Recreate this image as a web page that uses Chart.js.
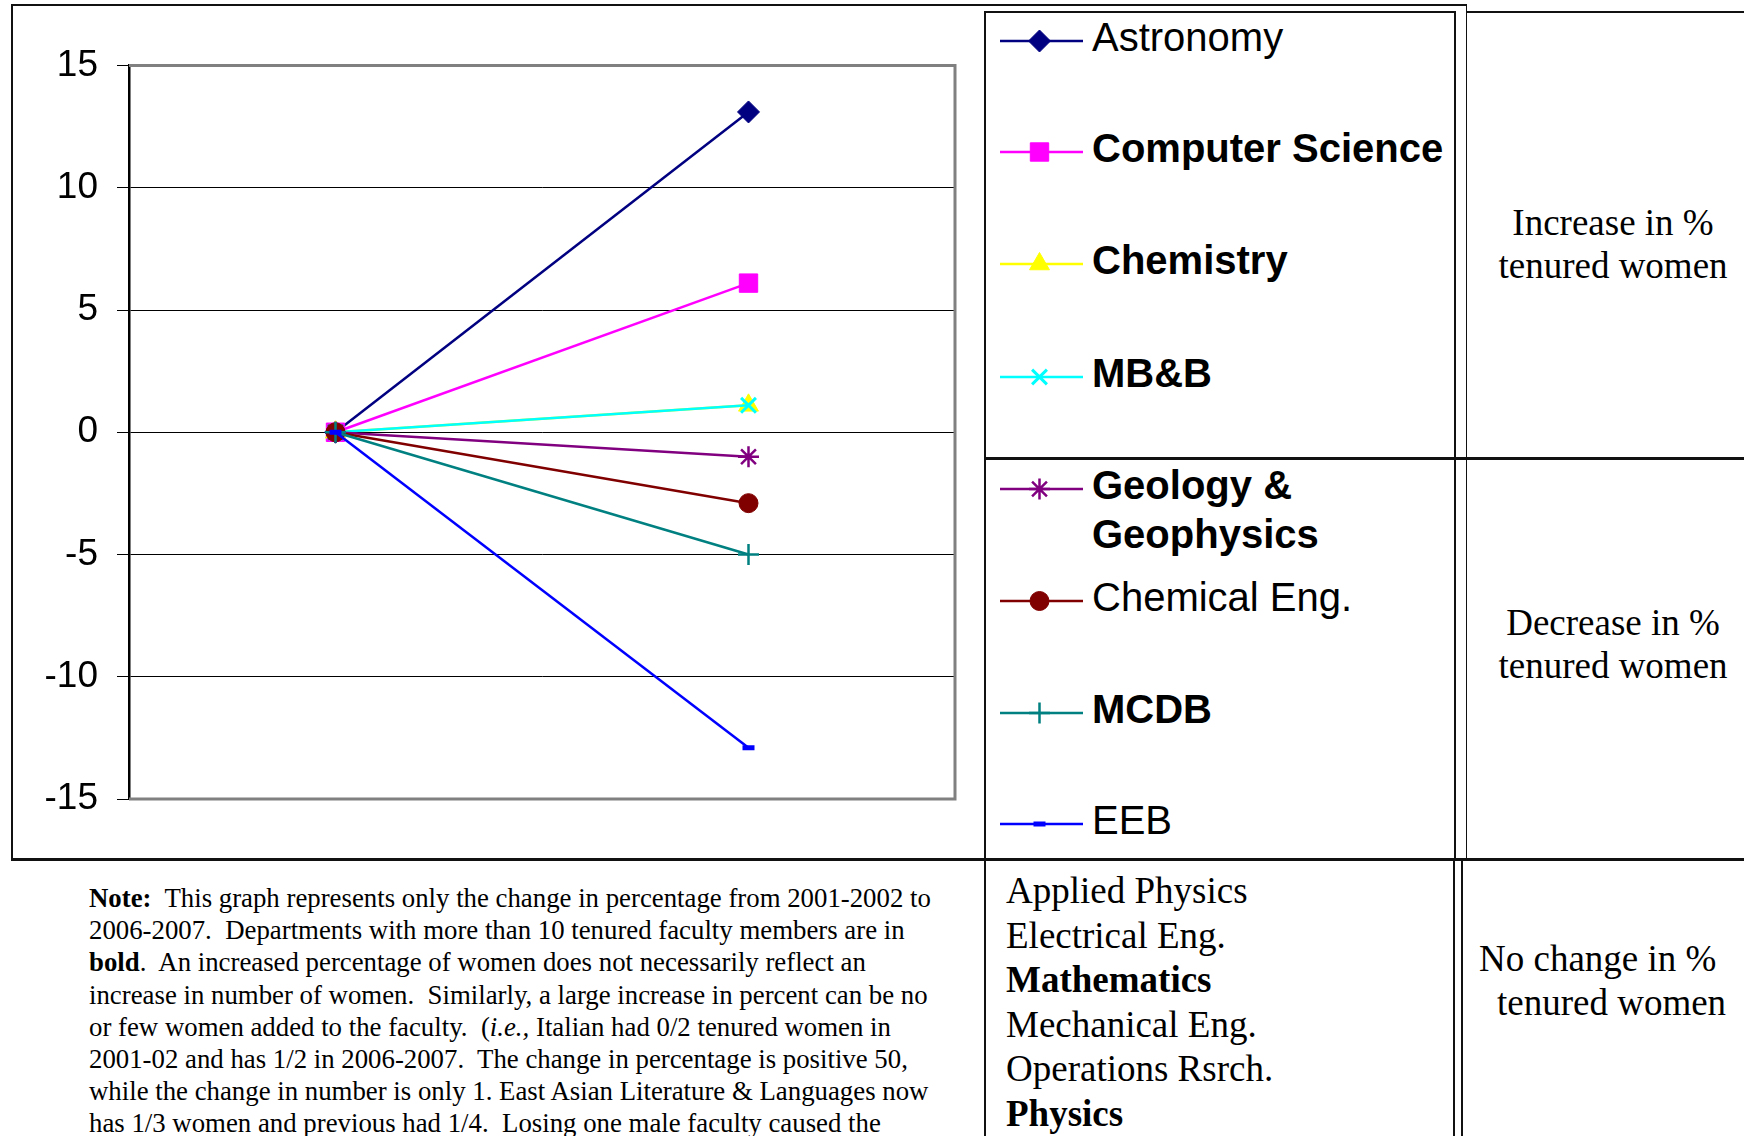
<!DOCTYPE html>
<html>
<head>
<meta charset="utf-8">
<script src="https://cdn.jsdelivr.net/npm/chart.js@4.4.1/dist/chart.umd.min.js"></script>
<style>
  body { margin: 0; background: #fff; width: 1744px; height: 1136px; overflow: hidden; position: relative; }
  .ln { position: absolute; background: #111; }
  .sans { font-family: 'Liberation Sans', Arial, sans-serif; }
  .serif { font-family: 'Liberation Serif', 'Times New Roman', serif; color: #000; }
  #chart { position: absolute; left: 12px; top: 6px; }
  .legText { position: absolute; left: 1092px; font-size: 40px; line-height: 49px; white-space: pre; color: #000; }
  .cellText { position: absolute; font-size: 37px; white-space: pre; }
  #note { position: absolute; left: 89px; top: 882px; font-size: 26.8px; line-height: 32.2px; white-space: pre; }
  #unchanged { position: absolute; left: 1006px; top: 869px; font-size: 37px; line-height: 44.5px; white-space: pre; }
</style>
</head>
<body>
<canvas id="chart" width="970" height="852"></canvas>
<div id="note" class="serif"><b>Note:</b>  This graph represents only the change in percentage from 2001-2002 to
2006-2007.  Departments with more than 10 tenured faculty members are in
<b>bold</b>.  An increased percentage of women does not necessarily reflect an
increase in number of women.  Similarly, a large increase in percent can be no
or few women added to the faculty.  (<i>i.e.,</i> Italian had 0/2 tenured women in
2001-02 and has 1/2 in 2006-2007.  The change in percentage is positive 50,
while the change in number is only 1. East Asian Literature &amp; Languages now
has 1/3 women and previous had 1/4.  Losing one male faculty caused the</div>
<div id="unchanged" class="serif"></div>
<script>
// data
const periods = ['2001-2002', '2006-2007'];
const departments = ['Astronomy', 'Computer Science', 'Chemistry', 'MB&B',
  'Geology & Geophysics', 'Chemical Eng.', 'MCDB', 'EEB'];
const before = [0, 0, 0, 0, 0, 0, 0, 0];
const after = [13.1, 6.1, 1.1, 1.1, -1, -2.9, -5, -12.9];
const boldDept = [false, true, true, true, true, false, true, false];
const noChange = ['Applied Physics', 'Electrical Eng.', 'Mathematics', 'Mechanical Eng.', 'Operations Rsrch.', 'Physics'];
const noChangeBold = [false, false, true, false, false, true];
const yMin = -15, yMax = 15, yStep = 5;

// look
const colors = ['#000080', '#ff00ff', '#ffff00', '#00ffff', '#800080', '#800000', '#008080', '#0000ff'];
const markers = ['rectRot', 'rect', 'triangle', 'crossRot', 'star', 'circle', 'cross', 'line'];
const radii = [11, 13, 11.5, 10.5, 10.5, 9.5, 10.5, 6];
const markerWidths = [1, 1, 1, 3, 2.5, 1, 2.5, 5];
const legendY = [41, 152, 264, 377, 489, 601, 713, 824];

const plotFrame = {
  id: 'plotFrame',
  beforeDatasetsDraw(chart) {
    const { ctx, chartArea: a } = chart;
    ctx.save();
    ctx.strokeStyle = '#808080';
    ctx.lineWidth = 3;
    ctx.beginPath();
    ctx.moveTo(a.left, a.top);
    ctx.lineTo(a.right, a.top);
    ctx.lineTo(a.right, a.bottom);
    ctx.lineTo(a.left, a.bottom);
    ctx.stroke();
    ctx.restore();
  }
};

new Chart(document.getElementById('chart'), {
  type: 'line',
  data: {
    labels: periods,
    datasets: departments.map((name, i) => ({
      label: name,
      data: [before[i], after[i]],
      borderColor: colors[i],
      backgroundColor: colors[i],
      borderWidth: 2.5,
      pointStyle: markers[i],
      pointRadius: radii[i],
      pointBorderWidth: markerWidths[i],
      pointBackgroundColor: colors[i],
      pointBorderColor: colors[i],
      order: departments.length - i
    }))
  },
  options: {
    responsive: false,
    animation: false,
    layout: { padding: { left: 0, top: 59.5, right: 27, bottom: 59 } },
    plugins: { legend: { display: false }, tooltip: { enabled: false } },
    scales: {
      x: { display: false, offset: true },
      y: {
        min: yMin, max: yMax,
        ticks: {
          stepSize: yStep, color: '#000', padding: 19,
          font: { family: "'Liberation Sans', Arial, sans-serif", size: 37 }
        },
        grid: { color: '#000', lineWidth: 1, tickLength: 12, tickColor: '#000' },
        border: { color: '#000', width: 2.5 },
        afterFit(scale) { scale.width = 117; }
      }
    }
  },
  plugins: [plotFrame]
});

// legend built from the same series
departments.forEach((name, i) => {
  const c = document.createElement('canvas');
  c.width = 100; c.height = 36;
  c.style.cssText = 'position:absolute;left:992px;top:' + (legendY[i] - 18) + 'px';
  document.body.appendChild(c);
  const ctx = c.getContext('2d');
  ctx.strokeStyle = colors[i];
  ctx.fillStyle = colors[i];
  ctx.lineWidth = 2.5;
  ctx.beginPath(); ctx.moveTo(8, 18); ctx.lineTo(91, 18); ctx.stroke();
  ctx.lineWidth = markerWidths[i];
  Chart.helpers.drawPoint(ctx, { pointStyle: markers[i], radius: radii[i], rotation: 0, borderWidth: markerWidths[i] }, 47.5, 18);

  const t = document.createElement('div');
  t.className = 'legText sans';
  t.style.top = (legendY[i] - 28) + 'px';
  t.style.fontWeight = boldDept[i] ? 'bold' : 'normal';
  t.textContent = name.replace(' & ', ' &\n');
  document.body.appendChild(t);
});

const list = document.getElementById('unchanged');
noChange.forEach((name, i) => {
  const d = document.createElement('div');
  d.textContent = name;
  if (noChangeBold[i]) d.style.fontWeight = 'bold';
  list.appendChild(d);
});

function cell(text, left, top, width, align, lh) {
  const d = document.createElement('div');
  d.className = 'cellText serif';
  d.style.cssText += 'left:' + left + 'px;top:' + top + 'px;width:' + width + 'px;text-align:' + align + ';line-height:' + lh + 'px';
  d.textContent = text;
  document.body.appendChild(d);
}
cell('Increase in %\ntenured women', 1482, 200.5, 262, 'center', 43);
cell('Decrease in %\ntenured women', 1482, 600.5, 262, 'center', 43);
cell('No change in %', 1479, 936.5, 265, 'left', 44);
cell('tenured women', 1497, 980.5, 247, 'left', 44);

// table and frame rules
function hline(x1, x2, y, w) {
  const d = document.createElement('div');
  d.className = 'ln';
  d.style.cssText += 'left:' + x1 + 'px;top:' + (y - w / 2) + 'px;width:' + (x2 - x1) + 'px;height:' + w + 'px';
  document.body.appendChild(d);
}
function vline(x, y1, y2, w) {
  const d = document.createElement('div');
  d.className = 'ln';
  d.style.cssText += 'left:' + (x - w / 2) + 'px;top:' + y1 + 'px;width:' + w + 'px;height:' + (y2 - y1) + 'px';
  document.body.appendChild(d);
}
hline(11, 1467, 4.5, 2);
vline(11.5, 4, 860, 2);
vline(1466.5, 4, 860, 1.5);
hline(985, 1455, 12, 2.5);
hline(1466, 1744, 12, 2.5);
vline(985, 11, 1136, 2.5);
vline(1455, 11, 860, 1.5);
hline(985, 1744, 458.5, 3);
hline(11, 1744, 859.5, 3);
vline(1454, 860, 1136, 2);
vline(1462, 860, 1136, 2);
</script>
</body>
</html>
